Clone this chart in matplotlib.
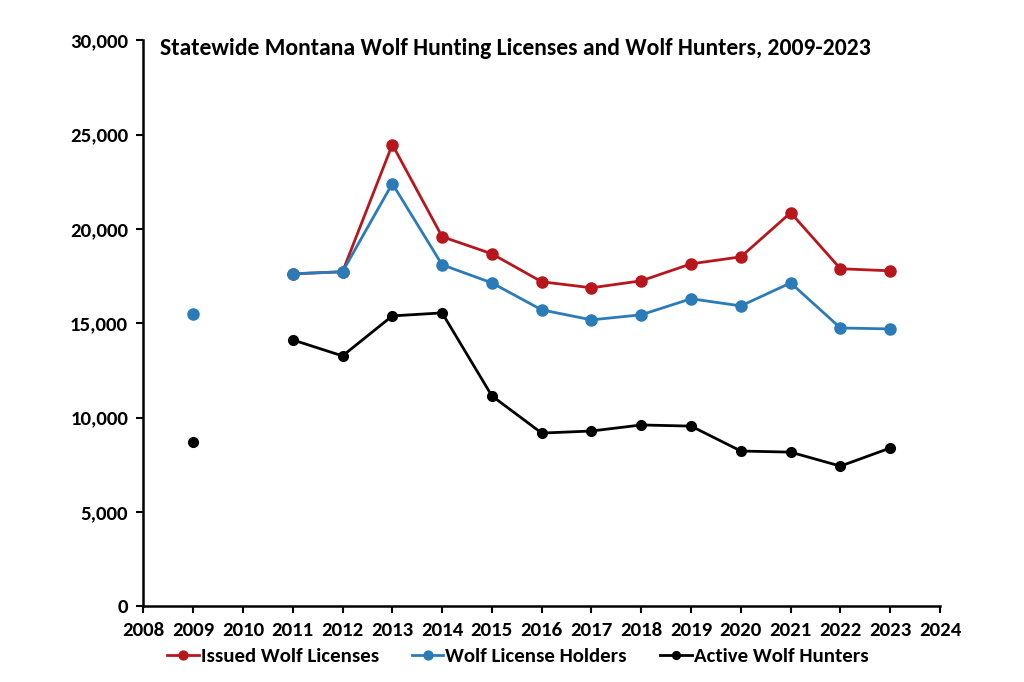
import numpy as np
import matplotlib.pyplot as plt
from matplotlib.ticker import FuncFormatter

nan = np.nan

# Data
years = [2009, 2010, 2011, 2012, 2013, 2014, 2015, 2016, 2017, 2018, 2019, 2020, 2021, 2022, 2023]
issued = [nan, nan, 17620, 17730, 24470, 19590, 18680, 17200, 16880, 17250, 18150, 18520, 20860, 17890, 17780]
holders = [15500, nan, 17620, 17730, 22400, 18100, 17140, 15710, 15180, 15450, 16300, 15920, 17140, 14750, 14700]
active = [8700, nan, 14120, 13270, 15390, 15550, 11150, 9180, 9290, 9610, 9550, 8230, 8170, 7430, 8390]

title = "Statewide Montana Wolf Hunting Licenses and Wolf Hunters, 2009-2023"

font = ['Carlito', 'DejaVu Sans']
plt.rcParams['font.family'] = font
plt.rcParams['font.weight'] = 'bold'

fig = plt.figure(figsize=(10.24, 6.82), dpi=100)
ax = fig.add_axes([0.14, 0.111, 0.778, 0.83])

ax.plot(years, issued, color='#B8161D', linewidth=2, marker='o', markersize=8, label='Issued Wolf Licenses')
ax.plot(years, holders, color='#2B7BB9', linewidth=2, marker='o', markersize=8, label='Wolf License Holders')
ax.plot(years, active, color='black', linewidth=2, marker='o', markersize=7, label='Active Wolf Hunters')

ax.set_xlim(2008, 2024)
ax.set_ylim(0, 30000)
ax.set_xticks(range(2008, 2025))
ax.set_yticks(range(0, 30001, 5000))
ax.yaxis.set_major_formatter(FuncFormatter(lambda v, p: f"{int(v):,}"))
ax.tick_params(axis='both', labelsize=15, width=1.5, length=5, direction='out', pad=6)
for lab in ax.get_xticklabels() + ax.get_yticklabels():
    lab.set_fontweight('bold')

for s in ['top', 'right']:
    ax.spines[s].set_visible(False)
for s in ['left', 'bottom']:
    ax.spines[s].set_linewidth(1.8)

ax.text(0.021, 0.986, title, transform=ax.transAxes, fontsize=17, fontweight='bold',
        va='center', ha='left')

ax.legend(loc='upper center', bbox_to_anchor=(0.47, -0.04), ncol=3, frameon=False,
          handlelength=1.5, handletextpad=0.1, columnspacing=1.6,
          markerscale=0.8, prop={'family': font, 'weight': 'bold', 'size': 15})

fig.savefig('out.png', dpi=100)
